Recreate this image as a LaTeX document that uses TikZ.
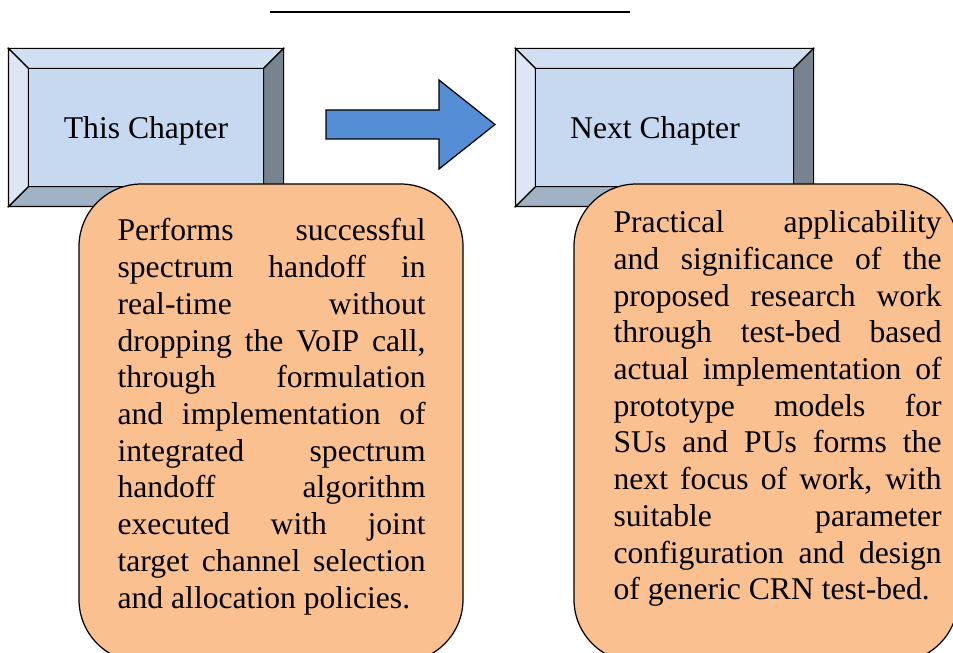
\documentclass[tikz,border=0pt]{standalone}
\usepackage{fontspec}
\setmainfont{Liberation Serif}
\usepackage{tikz}
\usetikzlibrary{positioning, calc}
\definecolor{bevelface}{HTML}{C6D9F1}
\definecolor{beveltop}{HTML}{D0E0F2}
\definecolor{bevelleft}{HTML}{DCE6F4}
\definecolor{bevelbottom}{HTML}{A1B2C5}
\definecolor{bevelright}{HTML}{77838F}
\definecolor{arrowblue}{HTML}{558ED5}
\definecolor{notepeach}{HTML}{FAC090}

\tikzset{
  chapbox/.style={draw, line width=0.7pt, minimum height=3.14cm, inner sep=0pt},
  chaplabel/.style={anchor=base, font=\fontsize{18}{20.9}\selectfont},
  notebox/.style={draw, line width=0.7pt, fill=notepeach, rounded corners=1.25cm,
    minimum width=7.68cm, minimum height=9.56cm, inner sep=0pt},
  notetext/.style={anchor=north west, inner sep=0pt, align=justify,
    font=\fontsize{18}{20.9}\selectfont}
}

% bevel faces round a chapter box
\newcommand{\drawbevel}[1]{%
  \coordinate (#1-a) at ($(#1.north west)+(0.4,-0.4)$);
  \coordinate (#1-b) at ($(#1.north east)+(-0.4,-0.4)$);
  \coordinate (#1-c) at ($(#1.south east)+(-0.4,0.4)$);
  \coordinate (#1-d) at ($(#1.south west)+(0.4,0.4)$);
  \filldraw[fill=beveltop] (#1.north west) -- (#1.north east) -- (#1-b) -- (#1-a) -- cycle;
  \filldraw[fill=bevelright] (#1.north east) -- (#1.south east) -- (#1-c) -- (#1-b) -- cycle;
  \filldraw[fill=bevelbottom] (#1.south east) -- (#1.south west) -- (#1-d) -- (#1-c) -- cycle;
  \filldraw[fill=bevelleft] (#1.south west) -- (#1.north west) -- (#1-a) -- (#1-d) -- cycle;
  \filldraw[fill=bevelface] (#1-a) rectangle (#1-c);
}

\begin{document}
\begin{tikzpicture}[line width=0.7pt]
  \useasboundingbox (0,0) rectangle (19.06,13.04);

  % rule at the top
  \draw[line width=0.8pt] (5.4,12.8) -- (12.6,12.8);

  % Chapter boxes
  \node[chapbox, minimum width=5.48cm] (thisbox) at (2.92,10.49) {};
  \node[chapbox, minimum width=5.94cm] (nextbox) at (13.29,10.49) {};
  \drawbevel{thisbox}
  \drawbevel{nextbox}
  \node[chaplabel] (thislabel) at (2.92,10.27) {This Chapter};
  \node[chaplabel] (nextlabel) at (13.1,10.27) {Next Chapter};

  % block arrow
  \filldraw[fill=arrowblue] (6.52,10.26) -- (6.52,10.84) -- (8.78,10.84) -- (8.78,11.44)
    -- (9.9,10.55) -- (8.78,9.66) -- (8.78,10.26) -- cycle;

  % Notes
  \node[notebox] (thisnote) at (5.42,4.58) {};
  \node[notebox] (nextnote) at (15.32,4.58) {};
  \node[notetext, text width=6.16cm] (thistext) at (2.34,8.68) {%
    Performs successful\linebreak
    spectrum handoff in\linebreak
    real-time without\linebreak
    dropping the VoIP call,\linebreak
    through formulation\linebreak
    and implementation of\linebreak
    integrated spectrum\linebreak
    handoff algorithm\linebreak
    executed with joint\linebreak
    target channel selection\linebreak
    and allocation policies.};
  \node[notetext, text width=6.56cm] (nexttext) at (12.26,8.84) {%
    Practical applicability\linebreak
    and significance of the\linebreak
    proposed research work\linebreak
    through test-bed based\linebreak
    actual implementation of\linebreak
    prototype models for\linebreak
    SUs and PUs forms the\linebreak
    next focus of work, with\linebreak
    suitable parameter\linebreak
    configuration and design\linebreak
    of generic CRN test-bed.};
\end{tikzpicture}
\end{document}
